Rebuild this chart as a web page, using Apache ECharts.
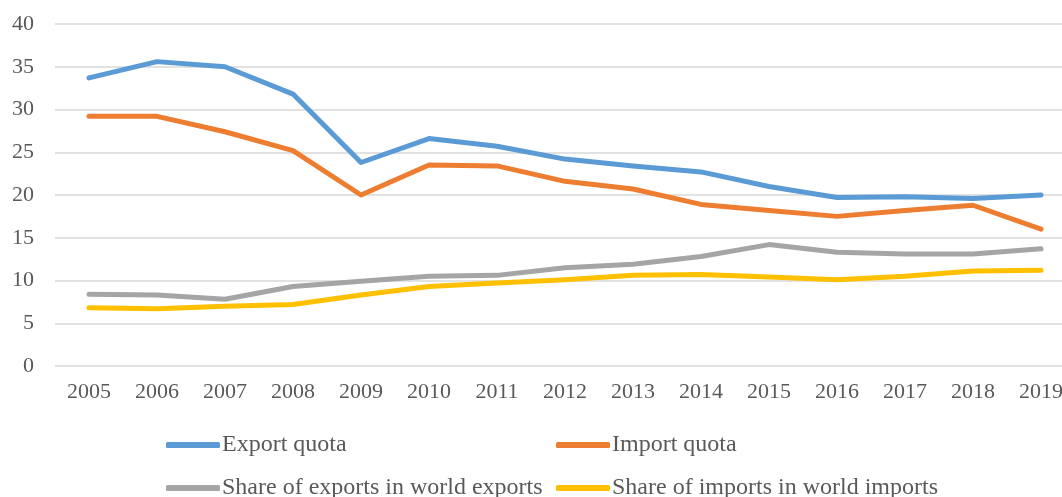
<!DOCTYPE html>
<html><head><meta charset="utf-8">
<script src="https://cdn.jsdelivr.net/npm/echarts@6/dist/echarts.min.js"></script>
<style>html,body{margin:0;padding:0;background:#fff;overflow:hidden}#c{width:1075px;height:497px}</style>
</head><body><div id="c"></div>
<script>
const years = ['2005','2006','2007','2008','2009','2010','2011','2012','2013','2014','2015','2016','2017','2018','2019'];
const exportQuota = [33.7,35.6,35.0,31.8,23.8,26.6,25.7,24.2,23.4,22.7,21.0,19.7,19.8,19.6,20.0];
const importQuota = [29.2,29.2,27.4,25.2,20.0,23.5,23.4,21.6,20.7,18.9,18.2,17.5,18.2,18.8,16.0];
const shareExports = [8.4,8.3,7.8,9.3,9.9,10.5,10.6,11.5,11.9,12.8,14.2,13.3,13.1,13.1,13.7];
const shareImports = [6.8,6.7,7.0,7.2,8.3,9.3,9.7,10.1,10.6,10.7,10.4,10.1,10.5,11.1,11.2];
const names = ['Export quota','Import quota','Share of exports in world exports','Share of imports in world imports'];
const colors = ['#5B9BD5','#ED7D31','#A5A5A5','#FFC000'];
const font = "'Liberation Serif','Times New Roman',serif";
const chart = echarts.init(document.getElementById('c'), null, {renderer:'canvas'});
const legendPos = [[166,433],[556,433],[166,476],[556,476]];
chart.setOption({
  animation:false,
  color: colors,
  grid:{left:55, top:24, right:0, bottom:131, containLabel:false},
  xAxis:{type:'category', data:years, boundaryGap:true,
    axisLine:{show:false}, axisTick:{show:false},
    axisLabel:{color:'#595959', fontFamily:font, fontSize:22, margin:15}},
  yAxis:{type:'value', min:0, max:40, interval:5,
    axisLine:{show:false}, axisTick:{show:false},
    axisLabel:{color:'#595959', fontFamily:font, fontSize:22, margin:21},
    splitLine:{lineStyle:{color:'#D9D9D9', width:1.5}}},
  legend: legendPos.map((p,i)=>({
    data:[names[i]], left:p[0], top:p[1], selectedMode:false, padding:0,
    icon:'roundRect', itemWidth:54, itemHeight:6, itemGap:0,
    textStyle:{color:'#595959', fontFamily:font, fontSize:24, padding:[0,0,0,-3]}
  })),
  series:[exportQuota,importQuota,shareExports,shareImports].map((d,i)=>({
    name:names[i], type:'line', data:d, showSymbol:false, symbol:'none',
    lineStyle:{width:5, color:colors[i], cap:'round', join:'round'},
    itemStyle:{color:colors[i]}
  }))
});
</script></body></html>
